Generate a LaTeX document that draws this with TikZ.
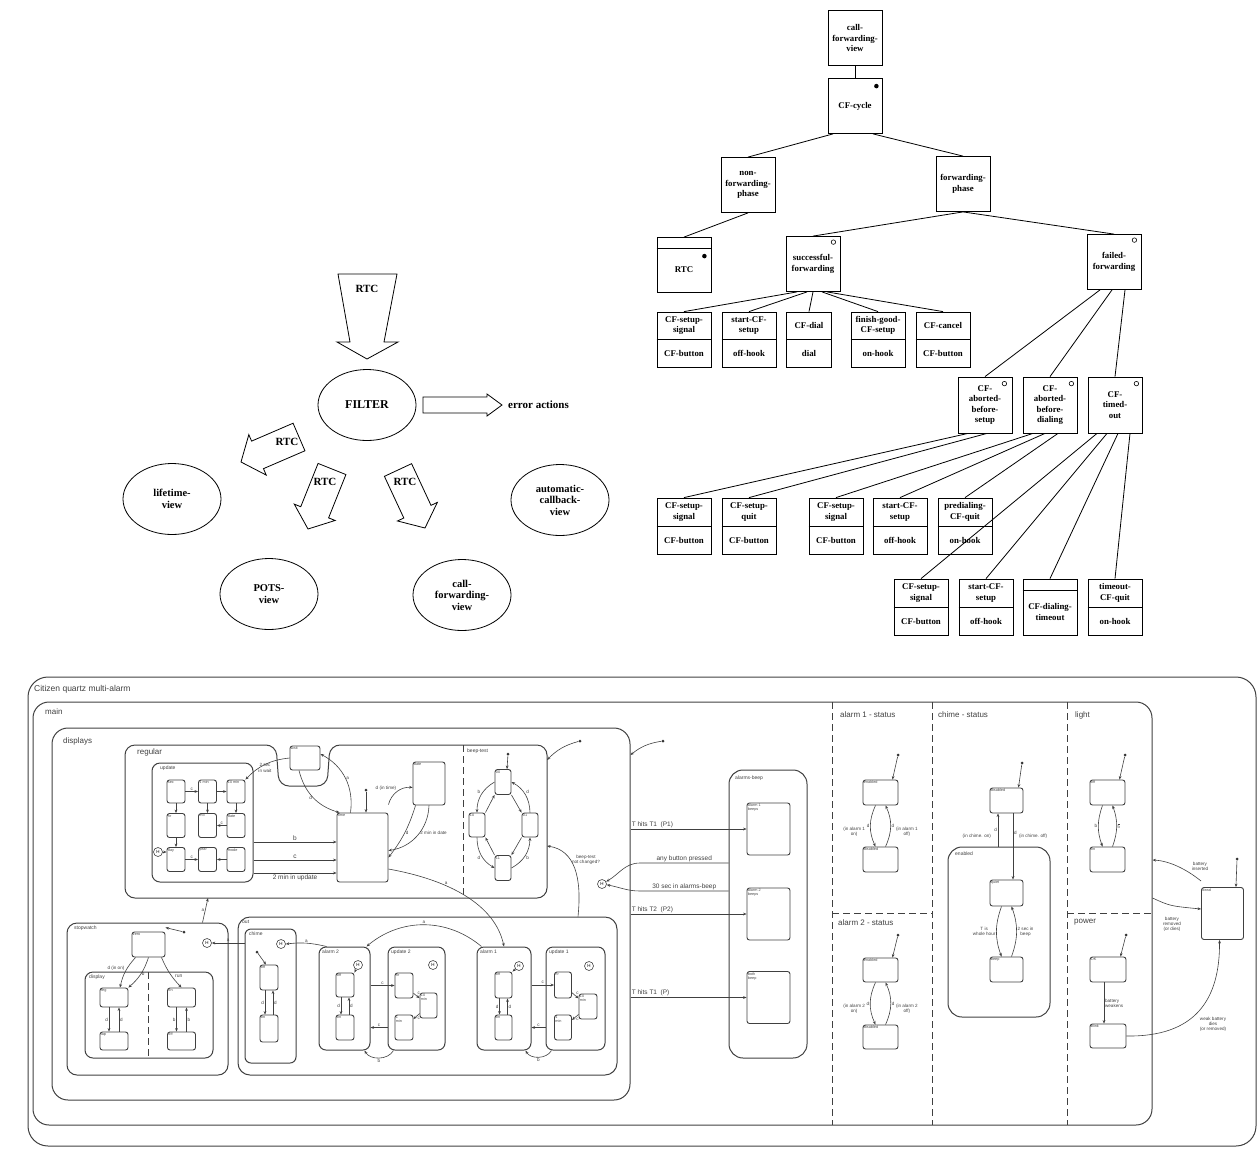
\documentclass[tikz,border=0pt]{standalone}
\usepackage{fontspec}
\setmainfont{Liberation Serif}
\setsansfont{Liberation Sans}
\usetikzlibrary{arrows.meta, positioning, calc, shapes.geometric}

\tikzset{
  % views and filter
  view/.style={draw, thick, ellipse, minimum width=98pt, minimum height=71pt,
    align=center, inner sep=0pt, font=\fontsize{10.5}{11.5}\selectfont\bfseries},
  fatarrow/.style={draw, thick, fill=white},
  rtc/.style={inner sep=0pt, font=\fontsize{11}{12}\selectfont\bfseries},
  % the tree
  tbox/.style={draw, thick, minimum width=54pt, minimum height=55pt, align=center,
    inner sep=0pt, font=\fontsize{8.8}{10.5}\selectfont\bfseries},
  ttext/.style={align=center, inner sep=0pt, font=\fontsize{8.8}{10.5}\selectfont\bfseries},
  branch/.style={thick},
  emptydot/.style={draw, semithick, circle, inner sep=0pt, minimum size=4.5pt},
  fulldot/.style={fill, circle, inner sep=0pt, minimum size=4.5pt},
  % the statechart
  zone/.style={draw=black!75, line width=1pt, rounded corners=#1, inner sep=0pt},
  zone/.default=12pt,
  ortho/.style={draw=black!75, line width=0.9pt, dash pattern=on 7pt off 4pt},
  st/.style={draw=black!75, line width=0.9pt, rounded corners=2.5pt, inner sep=0pt},
  stname/.style={anchor=north west, inner sep=1.2pt, align=left,
    font=\fontsize{3.8}{4.2}\selectfont\sffamily, text=black!70},
  zname/.style={anchor=north west, inner sep=0pt,
    font=\fontsize{8}{9}\selectfont\sffamily, text=black!75},
  sname/.style={anchor=north west, inner sep=0pt,
    font=\fontsize{5}{6}\selectfont\sffamily, text=black!75},
  lbl/.style={inner sep=1pt, align=center, font=\fontsize{6.5}{7}\selectfont\sffamily, text=black!75},
  lbls/.style={inner sep=0.8pt, align=center, font=\fontsize{4.6}{5.2}\selectfont\sffamily, text=black!75},
  tr/.style={draw=black!75, semithick, -{Stealth[length=3.5pt, width=2.8pt]}},
  dflt/.style={fill=black!80, circle, inner sep=0pt, minimum size=3pt},
  hist/.style={draw=black!75, semithick, circle, inner sep=0pt, minimum size=9pt,
    font=\fontsize{4.5}{5}\selectfont\sffamily},
}

% hollow block arrow: tail, tip, shaft half width, head half width, head length
\newcommand{\blockarrow}[5]{%
  \coordinate (ba-h) at ($(#2)!#5!(#1)$);
  \draw[fatarrow] ($(#1)!#3!90:(#2)$) -- ($(ba-h)!#3!-90:(#1)$)
    -- ($(ba-h)!#4!-90:(#1)$) -- (#2) -- ($(ba-h)!#4!90:(#1)$)
    -- ($(ba-h)!#3!90:(#1)$) -- ($(#1)!#3!-90:(#2)$) -- cycle;
}

% event box of the tree: name, x, y, upper text, lower text
\newcommand{\leafbox}[6][]{%
  \node[tbox, #1] (#2) at (#3,#4) {};
  \draw[thick] (#2.west) -- (#2.east);
  \node[ttext] (#2-up) at ($(#2.center)!0.5!(#2.north)$) {#5};
  \node[ttext] (#2-lo) at ($(#2.center)!0.5!(#2.south)$) {#6};
}

% small state: name, x, y, width, height, text
\newcommand{\stbox}[6]{%
  \node[st, minimum width=#4pt, minimum height=#5pt,
    label={[stname]north west:#6}] (#1) at (#2,#3) {};
}

\begin{document}
\begin{tikzpicture}[x=1pt, y=-1pt]
  \useasboundingbox (0,0) rectangle (1260,1151);

  % ---------------- filter and views ----------------
  \node[view, font=\fontsize{12}{13}\selectfont\bfseries] (filter) at (367,405) {FILTER};
  \node[view] (lifetime) at (172,499) {lifetime-\\view};
  \node[view] (pots) at (269,594) {POTS-\\view};
  \node[view] (cfview) at (462,595) {call-\\forwarding-\\view};
  \node[view] (callback) at (560,500) {automatic-\\callback-\\view};

  % incoming RTC, wider at the tail
  \draw[fatarrow] (338,274) -- (397,274) -- (384,342) -- (398,342) -- (367,359)
    -- (337,342) -- (350,342) -- cycle;
  \node[rtc] (rtc-in) at (367,289) {RTC};

  \coordinate (err-tail) at (423,405);
  \coordinate (err-tip) at (502,405);
  \blockarrow{err-tail}{err-tip}{8pt}{11pt}{15pt}
  \node[rtc, anchor=west] (err) at (508,405) {error actions};

  \coordinate (lt-tail) at (299,437);
  \coordinate (lt-tip) at (241,462);
  \blockarrow{lt-tail}{lt-tip}{15pt}{22pt}{18pt}
  \node[rtc] (rtc-lt) at (287,442) {RTC};

  \coordinate (po-tail) at (332,469);
  \coordinate (po-tip) at (308,529);
  \blockarrow{po-tail}{po-tip}{15pt}{22pt}{18pt}
  \node[rtc] (rtc-po) at (325,482) {RTC};

  \coordinate (cf-tail) at (398,470);
  \coordinate (cf-tip) at (425,528);
  \blockarrow{cf-tail}{cf-tip}{15pt}{22pt}{18pt}
  \node[rtc] (rtc-cf) at (405,482) {RTC};

  % ---------------- call-forwarding tree ----------------
  \node[tbox] (cfv) at (855,38) {call-\\forwarding-\\view};
  \node[tbox] (cfc) at (855,106) {CF-cycle};
  \node[fulldot] (cfc-d) at ($(cfc.north east)+(-6,8)$) {};
  \node[tbox] (nfp) at (748,185) {non-\\forwarding-\\phase};
  \node[tbox] (fp) at (963,184) {forwarding-\\phase};
  \node[tbox] (rtcbox) at (684,265) {};
  \draw[thick] ($(rtcbox.north west)+(0,11)$) -- ($(rtcbox.north east)+(0,11)$);
  \node[ttext] (rtcbox-t) at ($(rtcbox.center)+(0,5)$) {RTC};
  \node[fulldot] (rtcbox-d) at ($(rtcbox.north east)+(-7,19)$) {};
  \node[tbox] (sf) at (813,264) {successful-\\forwarding};
  \node[emptydot] (sf-d) at ($(sf.north east)+(-7,6)$) {};
  \node[tbox] (ff) at (1114,262) {failed-\\forwarding};
  \node[emptydot] (ff-d) at ($(ff.north east)+(-7,6)$) {};

  \draw[branch] (cfv) -- (cfc);
  \draw[branch] ($(cfc.south)+(-22,0)$) -- (nfp.north);
  \draw[branch] ($(cfc.south)+(18,0)$) -- (fp.north);
  \draw[branch] (nfp.south) -- (rtcbox.north);
  \draw[branch] (fp.south) -- (sf.north);
  \draw[branch] (fp.south) -- (ff.north);

  % events of successful-forwarding
  \leafbox{sa}{684}{339.5}{CF-setup-\\signal}{CF-button}
  \leafbox{sb}{749}{339.5}{start-CF-\\setup}{off-hook}
  \leafbox[minimum width=45pt]{sc}{809}{339.5}{CF-dial}{dial}
  \leafbox{sd}{878}{339.5}{finish-good-\\CF-setup}{on-hook}
  \leafbox{se}{943}{339.5}{CF-cancel}{CF-button}
  \draw[branch] ($(sf.south)+(-16,0)$) -- (sa.north);
  \draw[branch] ($(sf.south)+(-6,0)$) -- (sb.north);
  \draw[branch] (sf.south) -- (sc.north);
  \draw[branch] ($(sf.south)+(9,0)$) -- (sd.north);
  \draw[branch] ($(sf.south)+(14,0)$) -- (se.north);

  % failure kinds
  \node[tbox, minimum height=56pt] (ab1) at (985,405) {CF-\\aborted-\\before-\\setup};
  \node[emptydot] (ab1-d) at ($(ab1.north east)+(-8,7)$) {};
  \node[tbox, minimum height=56pt] (ab2) at (1050,405) {CF-\\aborted-\\before-\\dialing};
  \node[emptydot] (ab2-d) at ($(ab2.north east)+(-6,7)$) {};
  \node[tbox, minimum height=56pt] (tmo) at (1115,405) {CF-\\timed-\\out};
  \node[emptydot] (tmo-d) at ($(tmo.north east)+(-6,7)$) {};
  \draw[branch] ($(ff.south)+(-14,0)$) -- (ab1.north);
  \draw[branch] ($(ff.south)+(-2,0)$) -- (ab2.north);
  \draw[branch] ($(ff.south)+(11,0)$) -- (tmo.north);

  \leafbox[minimum height=56pt]{ra}{684}{526}{CF-setup-\\signal}{CF-button}
  \leafbox[minimum height=56pt]{rb}{749}{526}{CF-setup-\\quit}{CF-button}
  \leafbox[minimum height=56pt]{rc}{836}{526}{CF-setup-\\signal}{CF-button}
  \leafbox[minimum height=56pt]{rd}{900}{526}{start-CF-\\setup}{off-hook}
  \leafbox[minimum height=56pt]{re}{965}{526}{predialing-\\CF-quit}{on-hook}
  \draw[branch] ($(ab1.south)+(-17,0)$) -- (ra.north);
  \draw[branch] ($(ab1.south)+(2,0)$) -- (rb.north);
  \draw[branch] ($(ab2.south)+(-17,0)$) -- (rc.north);
  \draw[branch] ($(ab2.south)+(-5,0)$) -- (rd.north);
  \draw[branch] ($(ab2.south)+(8,0)$) -- (re.north);

  \leafbox[minimum height=56pt]{ta}{921}{607}{CF-setup-\\signal}{CF-button}
  \leafbox[minimum height=56pt]{tb}{986}{607}{start-CF-\\setup}{off-hook}
  \node[tbox, minimum height=56pt] (tc) at (1050,607) {};
  \draw[thick] ($(tc.north west)+(0,12)$) -- ($(tc.north east)+(0,12)$);
  \node[ttext] (tc-t) at ($(tc.center)+(0,5)$) {CF-dialing-\\timeout};
  \leafbox[minimum height=56pt]{td}{1115}{607}{timeout-\\CF-quit}{on-hook}
  \draw[branch] ($(tmo.south)+(-18,0)$) -- (ta.north);
  \draw[branch] ($(tmo.south)+(-8,0)$) -- (tb.north);
  \draw[branch] ($(tmo.south)+(3,0)$) -- (tc.north);
  \draw[branch] ($(tmo.south)+(15,0)$) -- (td.north);

  % ---------------- Citizen watch statechart ----------------
  \draw[zone=20pt] (28,677) rectangle (1256,1146);
  \node[zname, font=\fontsize{8.5}{9.5}\selectfont\sffamily] (title) at (34,685) {Citizen quartz multi-alarm};
  \node[zone=16pt, minimum width=1119pt, minimum height=423pt] (main) at (592.5,913.5) {};
  \node[zname] (main-l) at (45,708) {main};
  \draw[ortho] (832,702) -- (832,1125);
  \draw[ortho] (932,702) -- (932,1125);
  \draw[ortho] (1067,702) -- (1067,1125);
  \draw[ortho] (832,913) -- (932,913);
  \draw[ortho] (1067,913) -- (1152,913);
  \node[zname] (a1s-l) at (840,711) {alarm 1 - status};
  \node[zname] (chs-l) at (938,711) {chime - status};
  \node[zname] (lgt-l) at (1075,711) {light};
  \node[zname] (a2s-l) at (838,919) {alarm 2 - status};
  \node[zname] (pwr-l) at (1074,919) {power};

  % displays
  \node[zone=16pt, minimum width=578pt, minimum height=372pt] (displays) at (341,914) {};
  \node[zname] (displays-l) at (63,737) {displays};
  \draw[zone=10pt] (125,745) -- (276,745) -- (279,786) -- (327,786) -- (330,745)
    -- (547,745) -- (547,898) -- (125,898) -- cycle;
  \coordinate (reg-s) at (208,898);
  \coordinate (reg-ne) at (547,760);
  \coordinate (reg-e) at (547,846);
  \node[zname] (regular-l) at (137,748) {regular};
  \draw[ortho] (463,745) -- (463,898);
  \node[sname] (bt-l) at (467,749) {beep-test};

  \node[zone=8pt, minimum width=101pt, minimum height=119pt] (update) at (202.5,822.5) {};
  \node[sname] (update-l) at (160,766) {update};
  \stbox{c11}{176}{791.5}{18}{23}{sec}
  \stbox{c12}{207.5}{791.5}{18}{23}{1 min}
  \stbox{c13}{236}{791.5}{18}{23}{10 min}
  \stbox{c21}{176}{825.5}{18}{24}{hr}
  \stbox{c22}{207.5}{825.5}{18}{24}{mo}
  \stbox{c23}{236}{825.5}{18}{24}{date}
  \stbox{c31}{176}{859.5}{18}{24}{day}
  \stbox{c32}{207.5}{859.5}{18}{24}{year}
  \stbox{c33}{236}{859.5}{18}{24}{mode}
  \draw[tr] (c11) -- node[lbls, above]{c} (c12);
  \draw[tr] (c12) -- (c13);
  \draw[tr] (c11) -- (c21);
  \draw[tr] (c21) -- (c31);
  \draw[tr] (c12) -- (c22);
  \draw[tr] (c13) -- (c23);
  \draw[tr] (c23) -- node[lbls, above]{c} (c22);
  \draw[tr] (c31) -- node[lbls, above]{c} (c32);
  \draw[tr] (c33) -- (c32);
  \node[hist] (h-upd) at (158,852) {H};
  \draw[tr] (h-upd) -- (c31.west |- h-upd);

  \stbox{wait}{305}{758}{30}{24}{wait}
  \stbox{time}{362.5}{847.5}{51}{69}{time}
  \stbox{date}{429}{783.5}{32}{43}{date}
  \node[dflt] (d-time) at (366,790) {};
  \draw[tr] (d-time) -- (d-time |- time.north);
  \draw[tr] (update.east |- 0,842) -- node[lbl, above]{b} (time.west |- 0,842);
  \draw[tr] (update.east |- 0,860) -- node[lbl, above]{c} (time.west |- 0,860);
  \draw[tr] (update.east |- 0,873) -- node[lbl, below]{2 min in update} (time.west |- 0,873);
  \draw[tr] (wait.west) to[bend right=20] (c13.north east);
  \node[lbls] (wait-c) at (265,768) {2 sec\\in wait};
  \draw[tr] ([xshift=-6]wait.south) to[bend right=30] node[lbls, left]{d} ([xshift=3]time.north west);
  \draw[tr] ([xshift=-12]time.north) to[bend right=35] node[lbls, right]{a} ([yshift=4]wait.east);
  \draw[tr] ([yshift=8]time.north east) to[bend left=40] node[lbls, above left]{d (in time)} ([yshift=-4]date.west);
  \draw[tr] ([xshift=3]date.south west) to[bend left=10] node[lbls, right]{d} ([yshift=-10]time.east);
  \draw[tr] (date.south) to[bend left=40] node[lbls, right, pos=0.45]{2 min in date} ([yshift=-3]time.east);

  % beep-test
  \stbox{bt1}{503}{782}{16}{25}{00}
  \stbox{bt2}{477}{825}{16}{24}{10}
  \stbox{bt3}{530}{825}{16}{24}{01}
  \stbox{bt4}{503}{868}{16}{25}{11}
  \node[dflt] (d-bt) at (508,754) {};
  \draw[tr] (d-bt) -- ([xshift=4]bt1.north);
  \draw[tr] (bt1.west) to[bend right=30] node[lbls, above left]{b} (bt2.north);
  \draw[tr] (bt2.north east) -- (bt1.south west);
  \draw[tr] (bt3.north) to[bend right=30] node[lbls, above right]{d} (bt1.east);
  \draw[tr] (bt1.south east) -- (bt3.north west);
  \draw[tr] (bt2.south) to[bend right=30] node[lbls, below left]{d} (bt4.west);
  \draw[tr] (bt4.north west) -- (bt2.south east);
  \draw[tr] (bt4.east) to[bend right=30] node[lbls, below right]{b} (bt3.south);
  \draw[tr] (bt3.south west) -- (bt4.north east);

  % default entries and history of displays
  \node[dflt] (d-reg) at (580,741) {};
  \draw[tr] (d-reg) to[bend right=15] (reg-ne);
  \node[dflt] (d-disp) at (663,741) {};
  \draw[tr] (d-disp) to[bend right=15] (displays.east |- 0,755);
  \node[hist] (h-disp) at (602,884) {H};

  % alarms-beep
  \node[zone=14pt, minimum width=78pt, minimum height=288pt] (abeep) at (768,914) {};
  \node[sname] (abeep-l) at (735,776) {alarms-beep};
  \stbox{ab-one}{768.5}{829}{43}{52}{alarm 1\\beeps}
  \stbox{ab-two}{768.5}{914}{43}{52}{alarm 2\\beeps}
  \stbox{ab-both}{768.5}{997.5}{43}{52}{both\\beep}
  \draw[tr] (displays.east |- ab-one.west) -- node[lbl, pos=0, anchor=south west]{T hits T1\ \ (P1)} (ab-one.west);
  \draw[tr] (displays.east |- ab-two.west) -- node[lbl, pos=0, anchor=south west]{T hits T2\ \ (P2)} (ab-two.west);
  \draw[tr] (displays.east |- ab-both.west) -- node[lbl, pos=0, anchor=south west]{T hits T1\ \ (P)} (ab-both.west);
  \draw[tr] (abeep.west |- 0,863) -- node[lbl, above]{any button pressed} (640,863)
    to[out=180, in=30] (h-disp);
  \draw[tr] (abeep.west |- 0,891) -- node[lbl, above]{30 sec in alarms-beep} (640,891)
    to[out=180, in=-10] (h-disp);

  % stopwatch
  \node[zone=10pt, minimum width=161pt, minimum height=152pt] (stopwatch) at (147.5,999) {};
  \node[sname] (stopwatch-l) at (74,926) {stopwatch};
  \stbox{zero}{148.5}{944.5}{33}{25}{zero}
  \node[dflt] (d-zero) at (184,932) {};
  \draw[tr] (d-zero) -- ([yshift=4]zero.north east);
  \node[zone=8pt, minimum width=128pt, minimum height=86pt] (display) at (149,1015) {};
  \node[sname] (display-l) at (89,975) {display};
  \node[sname] (run-l) at (175,975) {run};
  \draw[ortho] (148,972) -- (148,1058);
  \stbox{reg}{114}{997.5}{28}{19}{reg}
  \stbox{lap}{114}{1041}{28}{18}{lap}
  \stbox{on}{181.5}{997.5}{28}{19}{on}
  \stbox{off}{181.5}{1041}{28}{18}{off}
  \draw[tr] ([xshift=4]zero.south west) to[bend right=15] node[lbls, above left]{d (in on)} ([xshift=6]reg.north);
  \draw[tr] (zero.south) to[bend left=15] node[lbls, right]{b} (reg.north east);
  \draw[tr] ([xshift=-4]zero.south east) to[bend right=10] (on.north);
  \draw[tr] ([xshift=-5]reg.south) -- node[lbls, left]{d} ([xshift=-5]lap.north);
  \draw[tr] ([xshift=5]lap.north) -- node[lbls, right]{d} ([xshift=5]reg.south);
  \draw[tr] ([xshift=-5]on.south) -- node[lbls, left]{b} ([xshift=-5]off.north);
  \draw[tr] ([xshift=5]off.north) -- node[lbls, right]{b} ([xshift=5]on.south);
  \node[hist] (h-sw) at (207,943) {H};
  \draw[tr] ([xshift=55]stopwatch.north) -- node[lbls, left]{a} (reg-s);

  % out: chime, alarms and their updates
  \node[zone=12pt, minimum width=379pt, minimum height=158pt] (out) at (427.5,996) {};
  \node[sname] (out-l) at (242,920) {out};
  \node[zone=6pt, minimum width=51pt, minimum height=134pt] (chime) at (270.5,996) {};
  \node[sname] (chime-l) at (249,932) {chime};
  \node[hist] (h-ch) at (281,944) {H};
  \stbox{ch-off}{269}{977.5}{18}{25}{off}
  \stbox{ch-on}{269}{1028.5}{18}{27}{on}
  \node[dflt] (d-ch) at (257,952) {};
  \draw[tr] (d-ch) -- ([xshift=-3]ch-off.north);
  \draw[tr] ([xshift=-4]ch-off.south) -- node[lbls, left]{d} ([xshift=-4]ch-on.north);
  \draw[tr] ([xshift=4]ch-on.north) -- node[lbls, right]{d} ([xshift=4]ch-off.south);
  \draw[tr] (chime.west |- h-sw) -- node[lbls, above]{a} (h-sw);

  \node[zone=7pt, minimum width=51pt, minimum height=103pt] (al2) at (344.5,998.5) {};
  \node[sname] (al2-l) at (322,950) {alarm 2};
  \node[hist] (h-al2) at (358,965) {H};
  \stbox{a2-off}{345}{985}{18}{24}{off}
  \stbox{a2-on}{345}{1027.5}{18}{25}{on}
  \draw[tr] (h-al2) -- (a2-off.north east);
  \draw[tr] ([xshift=-4]a2-off.south) -- node[lbls, left]{d} ([xshift=-4]a2-on.north);
  \draw[tr] ([xshift=4]a2-on.north) -- node[lbls, right]{d} ([xshift=4]a2-off.south);
  \draw[tr] ([xshift=8]al2.north west) to[bend right=10] node[lbls, above]{a} (h-ch.east);

  \node[zone=7pt, minimum width=57pt, minimum height=103pt] (up2) at (416.5,998.5) {};
  \node[sname] (up2-l) at (391,950) {update 2};
  \node[hist] (h-up2) at (433,965) {H};
  \stbox{u2-hr}{404}{985.5}{18}{25}{hr}
  \stbox{u2-tm}{428.5}{1005.5}{17}{25}{10\\min}
  \stbox{u2-m}{404}{1027.5}{18}{25}{1\\min}
  \draw[tr] (u2-hr) -- node[lbls, above right]{c} (u2-tm);
  \draw[tr] (u2-tm) -- node[lbls, below right]{c} (u2-m);
  \draw[tr] (al2.east |- u2-hr) -- node[lbls, above]{c} (u2-hr.west);
  \draw[tr] (up2.west |- u2-m) -- node[lbls, above]{c} (al2.east |- u2-m);
  \draw[tr] ([xshift=6]up2.south west) to[bend left=60] node[lbls, below]{b} ([xshift=-6]al2.south east);

  \node[zone=7pt, minimum width=54pt, minimum height=103pt] (al1) at (504,998.5) {};
  \node[sname] (al1-l) at (480,950) {alarm 1};
  \node[hist] (h-al1) at (519,966) {H};
  \stbox{a1-off}{503.5}{985}{17}{26}{off}
  \stbox{a1-on}{503.5}{1027.5}{17}{25}{on}
  \draw[tr] (h-al1) -- (a1-off.north east);
  \draw[tr] ([xshift=-4]a1-off.south) -- node[lbls, left]{d} ([xshift=-4]a1-on.north);
  \draw[tr] ([xshift=4]a1-on.north) -- node[lbls, right]{d} ([xshift=4]a1-off.south);
  \draw[tr] ([xshift=5]al1.north west) to[bend right=40] node[lbls, above]{a} ([xshift=-4]al2.north east);

  \node[zone=7pt, minimum width=59pt, minimum height=103pt] (up1) at (575.5,998.5) {};
  \node[sname] (up1-l) at (549,950) {update 1};
  \node[hist] (h-up1) at (589,966) {H};
  \stbox{u1-hr}{563}{985}{17}{26}{hr}
  \stbox{u1-tm}{588}{1006.5}{18}{25}{10\\min}
  \stbox{u1-m}{563}{1027.5}{17}{25}{1\\min}
  \draw[tr] (u1-hr) -- node[lbls, above right]{c} (u1-tm);
  \draw[tr] (u1-tm) -- node[lbls, below right]{c} (u1-m);
  \draw[tr] (al1.east |- u1-hr) -- node[lbls, above]{c} (u1-hr.west);
  \draw[tr] (up1.west |- u1-m) -- node[lbls, above]{c} (al1.east |- u1-m);
  \draw[tr] ([xshift=6]up1.south west) to[bend left=60] node[lbls, below]{b} ([xshift=-6]al1.south east);

  % long transitions across displays
  \draw[tr] (time.east |- 0,869) .. controls (450,880) and (495,905) .. node[lbls, above, pos=0.35]{a} (al1.north);
  \draw[tr] (out.north -| 578,0) .. controls (582,878) and (575,850) .. (reg-e);
  \node[lbls, anchor=west] (bt-cond) at (571,860) {beep-test\\not changed?};

  % alarm 1 - status
  \stbox{en1}{880.5}{792.5}{35}{25}{enabled}
  \stbox{dis1}{880.5}{859.5}{35}{25}{disabled}
  \node[dflt] (d-en1) at (898,755) {};
  \draw[tr] (d-en1) -- ([xshift=-6]en1.north east);
  \draw[tr] ([xshift=-5]en1.south) to[bend right=25] node[lbls, left]{d} ([xshift=-5]dis1.north);
  \draw[tr] ([xshift=5]dis1.north) to[bend right=25] node[lbls, right]{d} ([xshift=5]en1.south);
  \node[lbls, anchor=east] (en1-c) at (866,832) {(in alarm 1\\on)};
  \node[lbls, anchor=west] (dis1-c) at (895,832) {(in alarm 1\\off)};

  % alarm 2 - status
  \stbox{en2}{880.5}{970}{35}{24}{enabled}
  \stbox{dis2}{880.5}{1037}{35}{24}{disabled}
  \node[dflt] (d-en2) at (898,935) {};
  \draw[tr] (d-en2) -- ([xshift=-6]en2.north east);
  \draw[tr] ([xshift=-5]en2.south) to[bend right=25] node[lbls, left]{d} ([xshift=-5]dis2.north);
  \draw[tr] ([xshift=5]dis2.north) to[bend right=25] node[lbls, right]{d} ([xshift=5]en2.south);
  \node[lbls, anchor=east] (en2-c) at (866,1009) {(in alarm 2\\on)};
  \node[lbls, anchor=west] (dis2-c) at (895,1009) {(in alarm 2\\off)};

  % chime - status
  \stbox{dis3}{1006.5}{800.5}{33}{25}{disabled}
  \node[dflt] (d-dis3) at (1022,763) {};
  \draw[tr] (d-dis3) -- ([xshift=-5]dis3.north east);
  \node[zone=14pt, minimum width=102pt, minimum height=170pt] (enab) at (999,932) {};
  \node[sname] (enab-l) at (955,852) {enabled};
  \stbox{quiet}{1006.5}{893}{33}{26}{quiet}
  \stbox{beep}{1006.5}{969.5}{33}{25}{beep}
  \draw[tr] (enab.north -| 998,0) -- node[lbls, left]{d} (dis3.south -| 998,0);
  \draw[tr] (dis3.south -| 1013,0) -- node[lbls, right, pos=0.3]{d} (quiet.north -| 1013,0);
  \node[lbls, anchor=east] (dis3-c) at (992,836) {(in chime. on)};
  \node[lbls, anchor=west] (en3-c) at (1018,836) {(in chime. off)};
  \draw[tr] ([xshift=-5]quiet.south) to[bend right=20] node[lbls, left]{T is\\whole hour} ([xshift=-5]beep.north);
  \draw[tr] ([xshift=5]beep.north) to[bend right=20] node[lbls, right]{2 sec in\\beep} ([xshift=5]quiet.south);

  % light
  \stbox{loff}{1107.5}{792.5}{35}{25}{off}
  \stbox{lon}{1107.5}{859.5}{35}{25}{on}
  \node[dflt] (d-loff) at (1125,755) {};
  \draw[tr] (d-loff) -- ([xshift=-6]loff.north east);
  \draw[tr] ([xshift=-5]loff.south) to[bend right=20] node[lbls, left]{b} ([xshift=-5]lon.north);
  \draw[tr] ([xshift=5]lon.north) to[bend right=20] node[lbls, right]{$\overline{\mathrm{b}}$} ([xshift=5]loff.south);

  % power
  \stbox{ok}{1108}{969.5}{36}{25}{OK}
  \stbox{blink}{1108}{1036}{36}{24}{blink}
  \node[dflt] (d-ok) at (1126,935) {};
  \draw[tr] (d-ok) -- ([xshift=-6]ok.north east);
  \draw[tr] ([xshift=-4]ok.south) -- node[lbls, right, align=left]{battery\\weakens} ([xshift=-4]blink.north);

  % dead
  \stbox{dead}{1222.5}{913.5}{42}{52}{dead}
  \node[dflt] (d-dead) at (1237,859) {};
  \draw[tr] (d-dead) -- ([xshift=-8]dead.north east);
  \draw[tr] ([yshift=6]dead.north west) .. controls (1190,872) and (1172,861) .. (main.east |- 0,860);
  \node[lbls] (ins-l) at (1200,866) {battery\\inserted};
  \draw[tr] (main.east |- 0,898) .. controls (1170,906) .. (dead.west |- 0,909);
  \node[lbls] (rem-l) at (1172,924) {battery\\removed\\(or dies)};
  \draw[tr] (blink.east) .. controls (1195,1037) and (1220,1000) .. ([xshift=-3]dead.south);
  \node[lbls] (weak-l) at (1213,1024) {weak battery\\dies\\(or removed)};
\end{tikzpicture}
\end{document}
